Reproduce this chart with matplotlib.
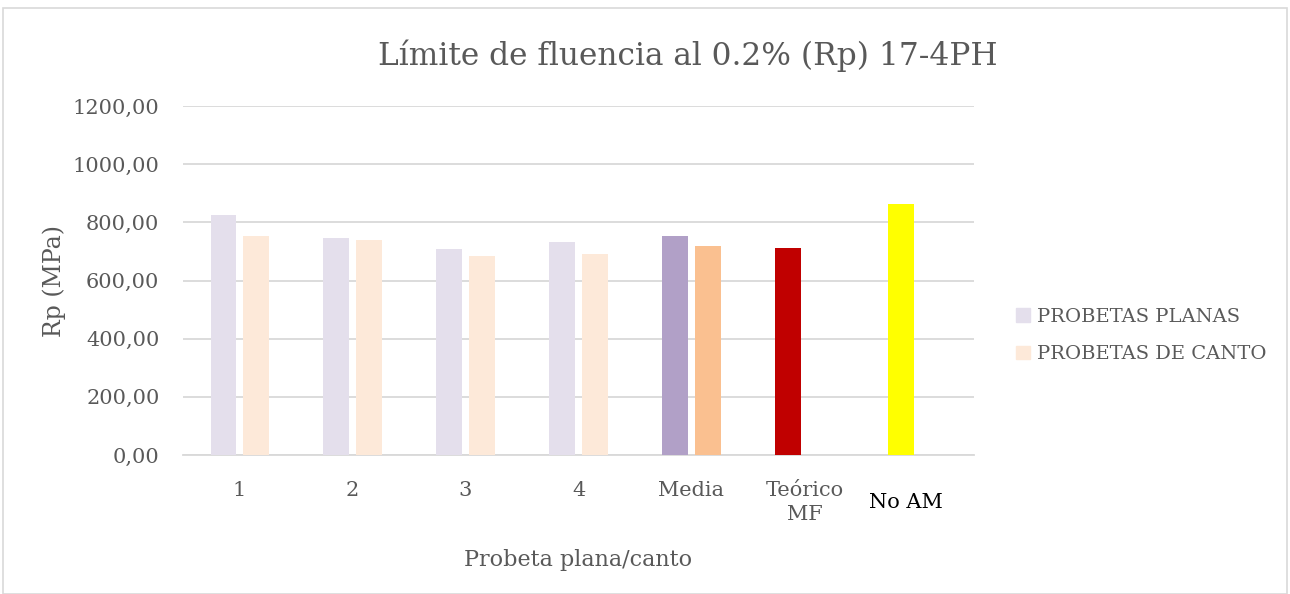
import matplotlib.pyplot as plt
import matplotlib.transforms as mtransforms
import numpy as np
from matplotlib.patches import Rectangle

categories = ["1", "2", "3", "4", "Media", "Teórico\nMF", "No AM"]
planas = [824, 745, 708, 732, 753, 712, 863]
canto = [752, 740, 684, 691, 719, np.nan, np.nan]

planas_colors = ["#E4DFEC"] * 4 + ["#B1A0C7", "#C00000", "#FFFF00"]
canto_colors = ["#FDE9D9"] * 4 + ["#FAC090", "#FAC090", "#FAC090"]

FONT = "DejaVu Serif"
GRAY = "#595959"
GRID = "#D9D9D9"

fig = plt.figure(figsize=(12.9, 5.94), dpi=100)
ax = fig.add_axes([0.1419, 0.234, 0.6131, 0.5875])

x = np.arange(len(categories))
width = 0.226
offset = 0.144

ax.bar(x - offset, planas, width, color=planas_colors, label="PROBETAS PLANAS", zorder=3)
ax.bar(x + offset, canto, width, color=canto_colors, label="PROBETAS DE CANTO", zorder=3)

ax.set_xlim(-0.5, len(categories) - 0.5)
ax.set_ylim(0, 1200)
ax.set_yticks(np.arange(0, 1201, 200))
ax.set_yticklabels([f"{v:.2f}".replace(".", ",") for v in np.arange(0, 1201, 200)],
                   fontsize=15, color=GRAY, family=FONT)
ax.set_xticks(x)
ax.set_xticklabels(categories, fontsize=15, color=GRAY, family=FONT, linespacing=1.3)
ax.tick_params(length=0)
ax.tick_params(axis="y", pad=17)
ax.tick_params(axis="x", pad=19)

# "No AM" label is black, vertically centred and a bit left of the tick
noam = ax.get_xticklabels()[-1]
noam.set_color("black")
noam.set_transform(noam.get_transform()
                   + mtransforms.ScaledTranslation(-0.12, -0.12, fig.dpi_scale_trans))

ax.yaxis.grid(True, color=GRID, linewidth=1.3, zorder=0)
ax.set_axisbelow(True)
for side in ["top", "right", "left"]:
    ax.spines[side].set_visible(False)
ax.spines["bottom"].set_color(GRID)
ax.spines["bottom"].set_linewidth(1.3)

ax.set_ylabel("Rp (MPa)", fontsize=17, color=GRAY, family=FONT, labelpad=5)
ax.set_xlabel("Probeta plana/canto", fontsize=16, color=GRAY, family=FONT, labelpad=18)

fig.text(0.5335, 0.906, "Límite de fluencia al 0.2% (Rp) 17-4PH", ha="center", va="center",
         fontsize=22.5, color=GRAY, family=FONT)

handles = [Rectangle((0, 0), 1, 1, color="#E4DFEC"), Rectangle((0, 0), 1, 1, color="#FDE9D9")]
leg = fig.legend(handles, ["PROBETAS PLANAS", "PROBETAS DE CANTO"],
                 loc="center left", bbox_to_anchor=(0.774, 0.435), frameon=False,
                 prop={"family": FONT, "size": 14}, handlelength=0.7, handleheight=0.7,
                 handletextpad=0.4, labelspacing=1.0, labelcolor=GRAY)

fig.patches.append(Rectangle((3 / 1290, 0.0), 1284 / 1290, 586 / 594,
                             transform=fig.transFigure, fill=False,
                             edgecolor=GRID, linewidth=1.2))

fig.savefig("out.png", dpi=100)
